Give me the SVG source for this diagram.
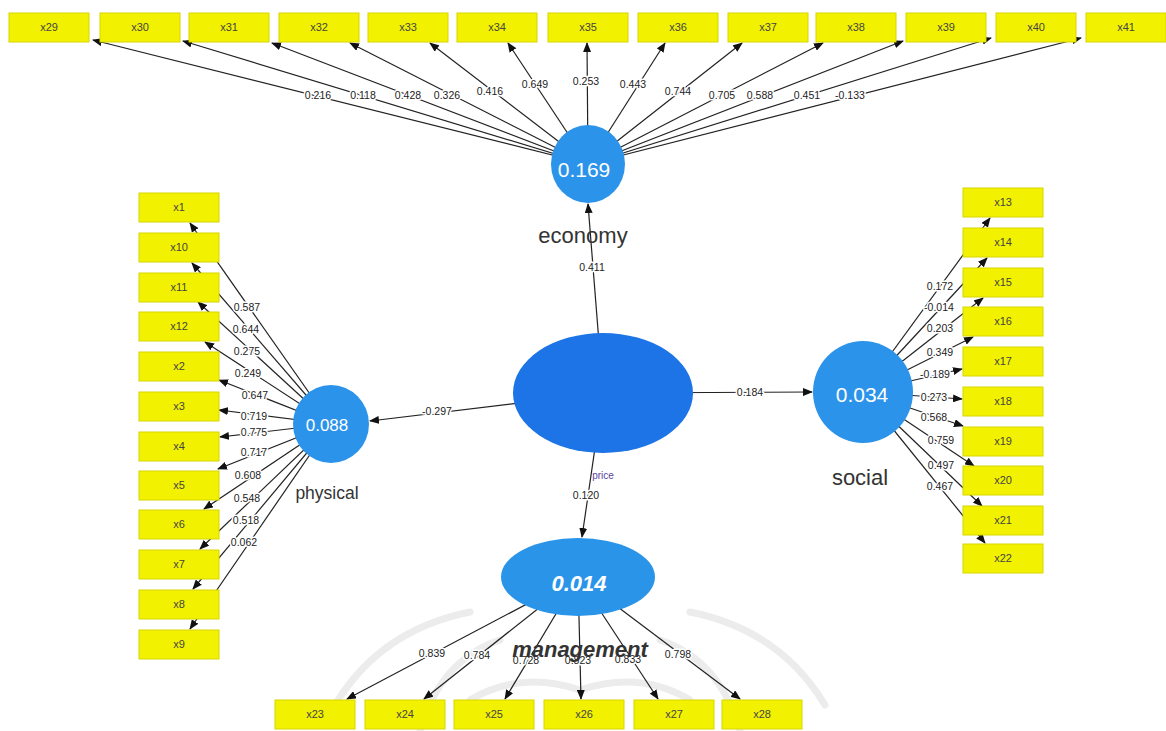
<svg xmlns="http://www.w3.org/2000/svg" width="1166" height="731" viewBox="0 0 1166 731">
<defs>
<marker id="arr" markerUnits="userSpaceOnUse" markerWidth="10" markerHeight="8" refX="9" refY="4" orient="auto">
<path d="M0,0 L10,4 L0,8 z" fill="#111"/>
</marker>
<style>
.ln{stroke:#222;stroke-width:1.2;fill:none;marker-end:url(#arr)}
.lbl{font-family:"Liberation Sans",Arial,sans-serif;font-size:10.5px;fill:#222;text-anchor:middle;stroke:#fff;stroke-width:3;paint-order:stroke;stroke-linejoin:round}
.box{fill:#f2f200;stroke:#d6d600;stroke-width:1}
.bt{font-family:"Liberation Sans",Arial,sans-serif;font-size:11px;fill:#444;text-anchor:middle}
.lv{fill:#2b93ea}
.val{font-family:"Liberation Sans",Arial,sans-serif;fill:#fff;text-anchor:middle}
.name{font-family:"Liberation Sans",Arial,sans-serif;fill:#333;text-anchor:middle}
.wm{fill:none;stroke:#ececec;stroke-width:7;stroke-linecap:round}
</style>
</defs>
<rect width="1166" height="731" fill="#fff"/>

<g id="watermark">
<path class="wm" d="M335,705 Q380,630 470,612"/>
<path class="wm" d="M825,705 Q780,630 690,612"/>
<path class="wm" d="M420,731 Q440,660 500,640"/>
<path class="wm" d="M740,731 Q720,660 660,640"/>
<path class="wm" d="M470,700 Q520,670 580,690 Q640,670 690,700"/>
</g>

<g id="connectors">
<line class="ln" x1="588" y1="164" x2="93" y2="40"/>
<line class="ln" x1="588" y1="164" x2="183" y2="41"/>
<line class="ln" x1="588" y1="164" x2="272" y2="43"/>
<line class="ln" x1="588" y1="164" x2="350" y2="43"/>
<line class="ln" x1="588" y1="164" x2="430" y2="43"/>
<line class="ln" x1="588" y1="164" x2="508" y2="43"/>
<line class="ln" x1="588" y1="164" x2="587" y2="43"/>
<line class="ln" x1="588" y1="164" x2="665" y2="43"/>
<line class="ln" x1="588" y1="164" x2="742" y2="43"/>
<line class="ln" x1="588" y1="164" x2="823" y2="43"/>
<line class="ln" x1="588" y1="164" x2="903" y2="41"/>
<line class="ln" x1="588" y1="164" x2="991" y2="38"/>
<line class="ln" x1="588" y1="164" x2="1081" y2="38"/>
<line class="ln" x1="331" y1="424" x2="190" y2="223"/>
<line class="ln" x1="331" y1="424" x2="192" y2="263"/>
<line class="ln" x1="331" y1="424" x2="198" y2="302"/>
<line class="ln" x1="331" y1="424" x2="205" y2="342"/>
<line class="ln" x1="331" y1="424" x2="219" y2="380"/>
<line class="ln" x1="331" y1="424" x2="219" y2="410"/>
<line class="ln" x1="331" y1="424" x2="220" y2="437"/>
<line class="ln" x1="331" y1="424" x2="218" y2="469"/>
<line class="ln" x1="331" y1="424" x2="204" y2="509"/>
<line class="ln" x1="331" y1="424" x2="200" y2="549"/>
<line class="ln" x1="331" y1="424" x2="193" y2="589"/>
<line class="ln" x1="331" y1="424" x2="190" y2="629"/>
<line class="ln" x1="863" y1="392" x2="990" y2="218"/>
<line class="ln" x1="863" y1="392" x2="987" y2="258"/>
<line class="ln" x1="863" y1="392" x2="983" y2="298"/>
<line class="ln" x1="863" y1="392" x2="973" y2="337"/>
<line class="ln" x1="863" y1="392" x2="962" y2="369"/>
<line class="ln" x1="863" y1="392" x2="962" y2="399"/>
<line class="ln" x1="863" y1="392" x2="963" y2="426"/>
<line class="ln" x1="863" y1="392" x2="974" y2="466"/>
<line class="ln" x1="863" y1="392" x2="982" y2="506"/>
<line class="ln" x1="863" y1="392" x2="985" y2="543"/>
<line class="ln" x1="578" y1="577" x2="347" y2="699"/>
<line class="ln" x1="578" y1="577" x2="424" y2="699"/>
<line class="ln" x1="578" y1="577" x2="505" y2="699"/>
<line class="ln" x1="578" y1="577" x2="581" y2="699"/>
<line class="ln" x1="578" y1="577" x2="658" y2="699"/>
<line class="ln" x1="578" y1="577" x2="740" y2="699"/>
<line class="ln" x1="603" y1="393" x2="588" y2="204"/>
<line class="ln" x1="603" y1="393" x2="370" y2="421"/>
<line class="ln" x1="603" y1="393" x2="812" y2="392"/>
<line class="ln" x1="603" y1="393" x2="582" y2="537"/>

<text class="lbl" x="318" y="99">0.216</text>
<text class="lbl" x="363" y="99">0.118</text>
<text class="lbl" x="408" y="99">0.428</text>
<text class="lbl" x="447" y="99">0.326</text>
<text class="lbl" x="490" y="95">0.416</text>
<text class="lbl" x="535" y="88">0.649</text>
<text class="lbl" x="586" y="85">0.253</text>
<text class="lbl" x="633" y="88">0.443</text>
<text class="lbl" x="678" y="95">0.744</text>
<text class="lbl" x="722" y="99">0.705</text>
<text class="lbl" x="760" y="99">0.588</text>
<text class="lbl" x="807" y="99">0.451</text>
<text class="lbl" x="850" y="99">-0.133</text>

<text class="lbl" x="247" y="311">0.587</text>
<text class="lbl" x="246" y="333">0.644</text>
<text class="lbl" x="247" y="355">0.275</text>
<text class="lbl" x="248" y="377">0.249</text>
<text class="lbl" x="255" y="399">0.647</text>
<text class="lbl" x="254" y="420">0.719</text>
<text class="lbl" x="254" y="436">0.775</text>
<text class="lbl" x="254" y="456">0.717</text>
<text class="lbl" x="248" y="479">0.608</text>
<text class="lbl" x="247" y="502">0.548</text>
<text class="lbl" x="246" y="524">0.518</text>
<text class="lbl" x="244" y="546">0.062</text>

<text class="lbl" x="940" y="290">0.172</text>
<text class="lbl" x="939" y="311">-0.014</text>
<text class="lbl" x="940" y="332">0.203</text>
<text class="lbl" x="940" y="356">0.349</text>
<text class="lbl" x="935" y="378">-0.189</text>
<text class="lbl" x="934" y="401">0.273</text>
<text class="lbl" x="934" y="421">0.568</text>
<text class="lbl" x="941" y="444">0.759</text>
<text class="lbl" x="941" y="469">0.497</text>
<text class="lbl" x="940" y="490">0.467</text>

<text class="lbl" x="432" y="657">0.839</text>
<text class="lbl" x="477" y="659">0.784</text>
<text class="lbl" x="526" y="664">0.728</text>
<text class="lbl" x="578" y="664">0.823</text>
<text class="lbl" x="628" y="663">0.833</text>
<text class="lbl" x="678" y="658">0.798</text>

<text class="lbl" x="592" y="271">0.411</text>
<text class="lbl" x="437" y="415">-0.297</text>
<text class="lbl" x="750" y="396">0.184</text>
<text class="lbl" x="586" y="499">0.120</text>
</g>

<g id="x29"><rect class="box" x="9" y="13" width="80" height="29"/><text class="bt" x="49" y="31">x29</text></g>
<g id="x30"><rect class="box" x="100" y="13" width="80" height="29"/><text class="bt" x="140" y="31">x30</text></g>
<g id="x31"><rect class="box" x="189" y="13" width="80" height="29"/><text class="bt" x="229" y="31">x31</text></g>
<g id="x32"><rect class="box" x="279" y="13" width="80" height="29"/><text class="bt" x="319" y="31">x32</text></g>
<g id="x33"><rect class="box" x="368" y="13" width="80" height="29"/><text class="bt" x="408" y="31">x33</text></g>
<g id="x34"><rect class="box" x="457" y="13" width="80" height="29"/><text class="bt" x="497" y="31">x34</text></g>
<g id="x35"><rect class="box" x="548" y="13" width="80" height="29"/><text class="bt" x="588" y="31">x35</text></g>
<g id="x36"><rect class="box" x="638" y="13" width="80" height="29"/><text class="bt" x="678" y="31">x36</text></g>
<g id="x37"><rect class="box" x="728" y="13" width="80" height="29"/><text class="bt" x="768" y="31">x37</text></g>
<g id="x38"><rect class="box" x="816" y="13" width="80" height="29"/><text class="bt" x="856" y="31">x38</text></g>
<g id="x39"><rect class="box" x="906" y="13" width="80" height="29"/><text class="bt" x="946" y="31">x39</text></g>
<g id="x40"><rect class="box" x="996" y="13" width="80" height="29"/><text class="bt" x="1036" y="31">x40</text></g>
<g id="x41"><rect class="box" x="1086" y="13" width="80" height="29"/><text class="bt" x="1126" y="31">x41</text></g>

<g id="x1"><rect class="box" x="139" y="193" width="80" height="29"/><text class="bt" x="179" y="211">x1</text></g>
<g id="x10"><rect class="box" x="139" y="233" width="80" height="29"/><text class="bt" x="179" y="251">x10</text></g>
<g id="x11"><rect class="box" x="139" y="273" width="80" height="29"/><text class="bt" x="179" y="291">x11</text></g>
<g id="x12"><rect class="box" x="139" y="312" width="80" height="29"/><text class="bt" x="179" y="330">x12</text></g>
<g id="x2"><rect class="box" x="139" y="352" width="80" height="29"/><text class="bt" x="179" y="370">x2</text></g>
<g id="x3"><rect class="box" x="139" y="392" width="80" height="29"/><text class="bt" x="179" y="410">x3</text></g>
<g id="x4"><rect class="box" x="139" y="432" width="80" height="29"/><text class="bt" x="179" y="450">x4</text></g>
<g id="x5"><rect class="box" x="139" y="471" width="80" height="29"/><text class="bt" x="179" y="489">x5</text></g>
<g id="x6"><rect class="box" x="139" y="510" width="80" height="29"/><text class="bt" x="179" y="528">x6</text></g>
<g id="x7"><rect class="box" x="139" y="550" width="80" height="29"/><text class="bt" x="179" y="568">x7</text></g>
<g id="x8"><rect class="box" x="139" y="590" width="80" height="29"/><text class="bt" x="179" y="608">x8</text></g>
<g id="x9"><rect class="box" x="139" y="630" width="80" height="29"/><text class="bt" x="179" y="648">x9</text></g>

<g id="x13"><rect class="box" x="963" y="188" width="80" height="29"/><text class="bt" x="1003" y="206">x13</text></g>
<g id="x14"><rect class="box" x="963" y="228" width="80" height="29"/><text class="bt" x="1003" y="246">x14</text></g>
<g id="x15"><rect class="box" x="963" y="268" width="80" height="29"/><text class="bt" x="1003" y="286">x15</text></g>
<g id="x16"><rect class="box" x="963" y="307" width="80" height="29"/><text class="bt" x="1003" y="325">x16</text></g>
<g id="x17"><rect class="box" x="963" y="347" width="80" height="29"/><text class="bt" x="1003" y="365">x17</text></g>
<g id="x18"><rect class="box" x="963" y="387" width="80" height="29"/><text class="bt" x="1003" y="405">x18</text></g>
<g id="x19"><rect class="box" x="963" y="427" width="80" height="29"/><text class="bt" x="1003" y="445">x19</text></g>
<g id="x20"><rect class="box" x="963" y="466" width="80" height="29"/><text class="bt" x="1003" y="484">x20</text></g>
<g id="x21"><rect class="box" x="963" y="506" width="80" height="29"/><text class="bt" x="1003" y="524">x21</text></g>
<g id="x22"><rect class="box" x="963" y="544" width="80" height="29"/><text class="bt" x="1003" y="562">x22</text></g>

<g id="x23"><rect class="box" x="275" y="700" width="80" height="29"/><text class="bt" x="315" y="718">x23</text></g>
<g id="x24"><rect class="box" x="365" y="700" width="80" height="29"/><text class="bt" x="405" y="718">x24</text></g>
<g id="x25"><rect class="box" x="454" y="700" width="80" height="29"/><text class="bt" x="494" y="718">x25</text></g>
<g id="x26"><rect class="box" x="544" y="700" width="80" height="29"/><text class="bt" x="584" y="718">x26</text></g>
<g id="x27"><rect class="box" x="634" y="700" width="80" height="29"/><text class="bt" x="674" y="718">x27</text></g>
<g id="x28"><rect class="box" x="722" y="700" width="80" height="29"/><text class="bt" x="762" y="718">x28</text></g>

<g id="economy">
<ellipse class="lv" cx="588" cy="164" rx="37" ry="39"/>
<text class="val" x="584" y="177" font-size="21">0.169</text>
<text class="name" x="583" y="243" font-size="22">economy</text>
</g>
<g id="physical">
<ellipse class="lv" cx="331" cy="424" rx="38" ry="39"/>
<text class="val" x="327" y="431" font-size="17">0.088</text>
<text class="name" x="327" y="499" font-size="17.5">physical</text>
</g>
<g id="social">
<ellipse class="lv" cx="863" cy="392" rx="50" ry="51"/>
<text class="val" x="862" y="402" font-size="21">0.034</text>
<text class="name" x="860" y="485" font-size="22">social</text>
</g>
<g id="price">
<ellipse cx="603" cy="393" rx="90" ry="60" fill="#1c74e6"/>
<text x="603" y="479" font-family="Liberation Sans,Arial,sans-serif" font-size="10" fill="#5b3fa0" text-anchor="middle">price</text>
</g>
<g id="management">
<ellipse cx="578" cy="577" rx="77" ry="39" fill="#2a94e8"/>
<text class="val" x="579" y="591" font-size="22" font-weight="bold" font-style="italic">0.014</text>
<text class="name" x="580" y="657" font-size="22" font-weight="bold" font-style="italic" fill="#222">management</text>
</g>
</svg>
